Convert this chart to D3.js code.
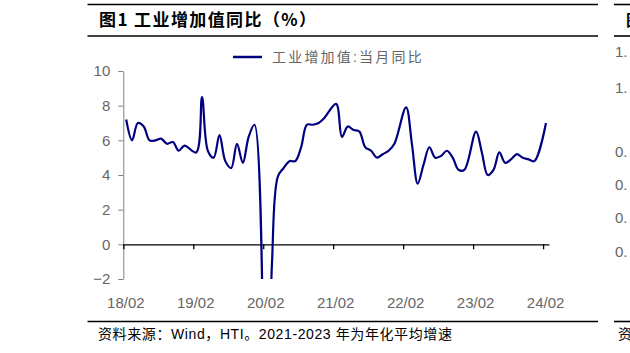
<!DOCTYPE html>
<html>
<head>
<meta charset="utf-8">
<script src="https://cdn.jsdelivr.net/npm/d3@7"></script>
<style>
  body { margin: 0; background: #fff; }
  svg text { font-family: 'Liberation Sans', 'Noto Sans CJK SC', sans-serif; }
</style>
</head>
<body>
<div class="chart"></div>
<script>
// 工业增加值:当月同比 (%), 1-2月合并公布, 所以每年从2月开始
const months = ['02','03','04','05','06','07','08','09','10','11','12'];
const v2018 = [7.2, 6.0, 7.0, 6.8, 6.0, 6.0, 6.1, 5.8, 5.9, 5.4, 5.7];
const v2019 = [5.3, 8.5, 5.4, 5.0, 6.3, 4.8, 4.4, 5.8, 4.7, 6.2, 6.9];
const v2020 = [-13.5, -1.1, 3.9, 4.4, 4.8, 4.8, 5.6, 6.9, 6.9, 7.0, 7.3];
const v2021 = [8.1, 6.2, 6.8, 6.6, 6.5, 5.6, 5.4, 5.0, 5.2, 5.4, 5.8];
const v2022 = [7.9, 5.8, 3.5, 4.6, 5.6, 5.0, 5.1, 5.4, 5.0, 4.3, 4.3];
const v2023 = [6.5, 5.3, 4.0, 4.3, 5.3, 4.7, 4.9, 5.2, 5.0, 4.9, 4.8];
const v2024 = [7.0];
const yearValues = [[2018, v2018], [2019, v2019], [2020, v2020], [2021, v2021],
                    [2022, v2022], [2023, v2023], [2024, v2024]];

const xTickLabels = ['18/02','19/02','20/02','21/02','22/02','23/02','24/02'];
const yTicks = [-2, 0, 2, 4, 6, 8, 10];

const title = '图1  工业增加值同比（%）';
const legendLabel = '工业增加值:当月同比';
const sourceNote = '资料来源：Wind，HTI。2021-2023 年为年化平均增速';
// visible remains of the next panel at the right edge
const sideTicks = ['1.', '1.', '0.', '0.', '0.', '0.'];

// month slot index counted from 2018-02
const data = [];
yearValues.forEach(([yr, vals]) => {
    vals.forEach((v, k) => {
        data.push({slot: (yr - 2018) * 12 + (+months[k] - 2), value: v});
    });
});

const W = 630, H = 353;
const svg = d3.select('.chart').append('svg').attr('width', W).attr('height', H);

const plot = {left: 123.3, right: 548.9, top: 71, bottom: 279};
const nSlots = 73;

const x = d3.scaleLinear().domain([0, nSlots]).range([plot.left, plot.right]);
const y = d3.scaleLinear().domain([-2, 10]).range([plot.bottom, plot.top]);

// header rules + title
const rule = (y0, x0, x1) => svg.append('line').attr('x1', x0).attr('x2', x1)
    .attr('y1', y0).attr('y2', y0).attr('stroke', '#000').attr('stroke-width', 1.6);
rule(4.5, 87.5, 598);
rule(36, 87.5, 598);
rule(321.5, 87.5, 598);

svg.append('text').attr('x', 99).attr('y', 26)
    .style('font-family', "'Noto Sans CJK SC', sans-serif")
    .style('font-weight', 'bold').style('font-size', '17px')
    .style('letter-spacing', '1.4px').text(title);

svg.append('text').attr('x', 98).attr('y', 339)
    .style('font-size', '14px').style('letter-spacing', '0.6px')
    .attr('fill', '#000').text(sourceNote);

// legend
svg.append('line').attr('x1', 233).attr('x2', 262).attr('y1', 57).attr('y2', 57)
    .attr('stroke', '#000080').attr('stroke-width', 2.5);
svg.append('text').attr('x', 272).attr('y', 62)
    .style('font-size', '14px').style('letter-spacing', '2.2px')
    .attr('fill', '#666').text(legendLabel);

// y axis
const yAxis = d3.axisLeft(y).tickValues(yTicks).tickSizeInner(5).tickSizeOuter(0).tickPadding(8);
const yAxisDraw = svg.append('g').attr('transform', `translate(${plot.left},0)`).call(yAxis);
yAxisDraw.select('.domain').attr('stroke', '#808080');
yAxisDraw.selectAll('.tick line').attr('stroke', '#808080');
yAxisDraw.selectAll('text').style('font-size', '15px').attr('fill', '#666');

// x axis at y = 0
const xAxis = d3.axisBottom(x).tickValues(d3.range(0, nSlots, 12))
    .tickFormat((d, i) => xTickLabels[i]).tickSizeInner(5).tickSizeOuter(0).tickPadding(0);
const xAxisDraw = svg.append('g').attr('transform', `translate(0,${y(0)})`).call(xAxis);
xAxisDraw.select('.domain').attr('stroke', '#000').attr('stroke-width', 1.3);
xAxisDraw.selectAll('.tick line').attr('stroke', '#000').attr('stroke-width', 1.3);
xAxisDraw.selectAll('text').style('font-size', '15px').attr('fill', '#666')
    .attr('dx', 2).attr('y', y(-2) - y(0) + 18);

// line
svg.append('clipPath').attr('id', 'plotClip').append('rect')
    .attr('x', plot.left).attr('y', plot.top - 10)
    .attr('width', plot.right - plot.left + 10).attr('height', plot.bottom - plot.top + 10);

const line = d3.line().x(d => x(d.slot + 0.5)).y(d => y(d.value))
    .curve(d3.curveCatmullRom.alpha(0.5));
svg.append('path').datum(data).attr('clip-path', 'url(#plotClip)')
    .attr('d', line).attr('fill', 'none')
    .attr('stroke', '#000080').attr('stroke-width', 2.2).attr('stroke-linejoin', 'round');

// neighbour panel, cut off by the page edge
rule(4.5, 614, 640);
rule(36, 614, 640);
rule(321.5, 614, 640);
svg.append('text').attr('x', 626).attr('y', 26)
    .style('font-family', "'Noto Sans CJK SC', sans-serif")
    .style('font-weight', 'bold').style('font-size', '16px').text('图');
const sideY = [52, 88, 152, 185, 218, 252];
svg.selectAll('.side').data(sideTicks).enter().append('text')
    .attr('x', 615).attr('y', (d, i) => sideY[i] + 5)
    .style('font-size', '15px').attr('fill', '#666').text(d => d);
svg.append('text').attr('x', 618).attr('y', 339).style('font-size', '14px').text('资');
</script>
</body>
</html>
